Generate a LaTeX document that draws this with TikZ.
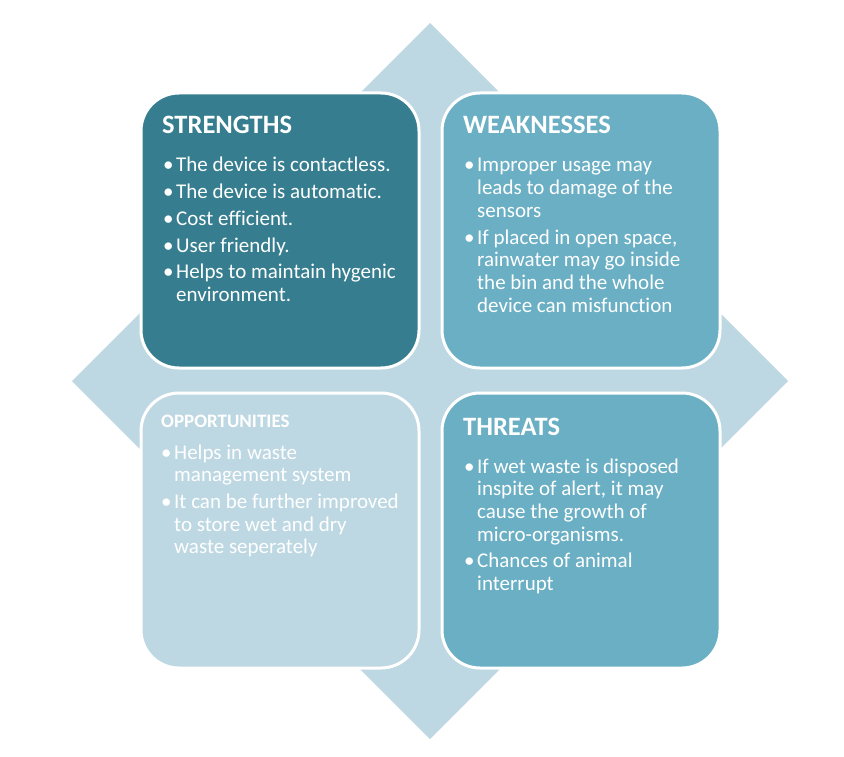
\documentclass[tikz,border=0pt]{standalone}
\usepackage{fontspec}
\setmainfont{Carlito}[Ligatures={NoCommon,NoRequired,NoContextual}]
\definecolor{darkteal}{HTML}{367E8F}
\definecolor{midteal}{HTML}{6AAFC4}
\definecolor{lightteal}{HTML}{BDD8E2}
\newcommand{\bodyfont}{\fontsize{21}{22.7}\selectfont}
\newcommand{\bl}{\textbullet}
\tikzset{
  swotbox/.style={rectangle, rounded corners=38pt, draw=white, line width=3pt,
    minimum width=278pt, minimum height=275pt, inner sep=0pt},
  swottitle/.style={anchor=base west, inner sep=0pt, text=white, font=\fontsize{26.5}{30}\selectfont\bfseries},
  swotbody/.style={anchor=base west, inner sep=0pt, text=white, font=\bodyfont}
}
\begin{document}
\begin{tikzpicture}[x=1pt,y=-1pt]
\useasboundingbox (0,0) rectangle (844,757);
\fill[lightteal] (430,23) -- (788,381) -- (430,739) -- (72,381) -- cycle;
\node[swotbox, fill=darkteal] (s) at (280,230.5) {};
\node[swotbox, fill=midteal] (w) at (581,230.5) {};
\node[swotbox, fill=lightteal] (o) at (280,530.5) {};
\node[swotbox, fill=midteal] (t) at (581,530.5) {};
\node[swottitle] (st) at (162,134) {STRENGTHS};
\node[swottitle] (wt) at (463,134) {WEAKNESSES};
\node[swottitle, font=\fontsize{19}{22}\selectfont\bfseries] (ot) at (161,427) {OPPORTUNITIES};
\node[swottitle] (tt) at (463,435) {THREATS};
\node[swotbody] (sb) at (163,172) {\begin{tabular}[t]{@{}p{13pt}@{}l@{}}
\bl & The device is contactless.\\[4pt]
\bl & The device is automatic.\\[4pt]
\bl & Cost efficient.\\[4pt]
\bl & User friendly.\\[4pt]
\bl & Helps to maintain hygenic\\
 & environment.
\end{tabular}};
\node[swotbody] (wb) at (464,172) {\begin{tabular}[t]{@{}p{13pt}@{}l@{}}
\bl & Improper usage may\\
 & leads to damage of the\\
 & sensors\\[4pt]
\bl & If placed in open space,\\
 & rainwater may go inside\\
 & the bin and the whole\\
 & device can misfunction
\end{tabular}};
\node[swotbody] (ob) at (161,459) {\begin{tabular}[t]{@{}p{13pt}@{}l@{}}
\bl & Helps in waste\\
 & management system\\[4pt]
\bl & It can be further improved\\
 & to store wet and dry\\
 & waste seperately
\end{tabular}};
\node[swotbody] (tb) at (464,473) {\begin{tabular}[t]{@{}p{13pt}@{}l@{}}
\bl & If wet waste is disposed\\
 & inspite of alert, it may\\
 & cause the growth of\\
 & micro-organisms.\\[4pt]
\bl & Chances of animal\\
 & interrupt
\end{tabular}};
\end{tikzpicture}
\end{document}
